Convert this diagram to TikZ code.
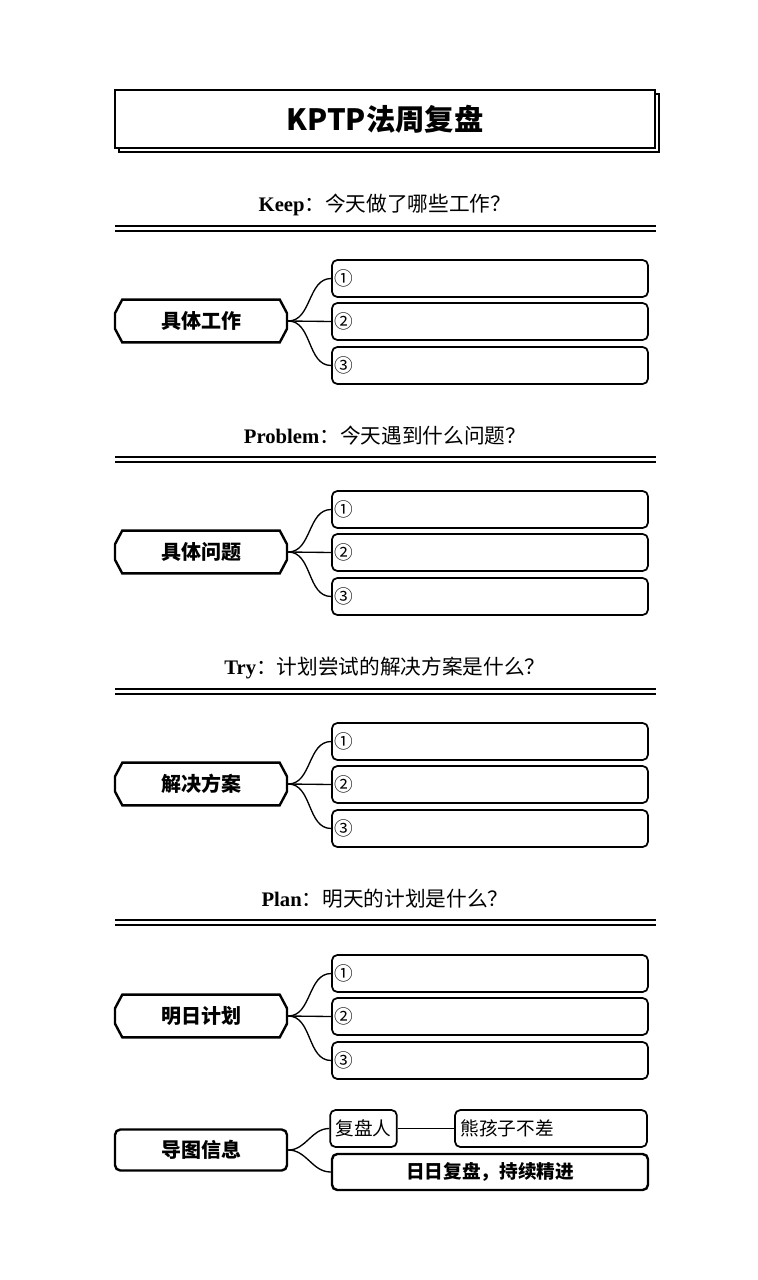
\documentclass[tikz,border=0pt]{standalone}
\usepackage{fontspec}
\setmainfont{Liberation Serif}
\newfontfamily\cjk{Noto Sans CJK SC}
\usetikzlibrary{shapes.misc}

\tikzset{
  titlebox/.style={draw, line width=2pt, fill=white, minimum width=405pt, minimum height=43.5pt,
    font=\cjk\bfseries\fontsize{22}{24}\selectfont},
  shadowbox/.style={draw, line width=1pt, minimum width=405pt, minimum height=43.5pt},
  head/.style={font=\bfseries\fontsize{15.5}{17}\selectfont},
  topic/.style={chamfered rectangle, chamfered rectangle xsep=9pt, chamfered rectangle angle=28,
    draw, line width=1.8pt, fill=white, minimum width=129pt, minimum height=32pt, inner sep=0pt,
    font=\cjk\bfseries\fontsize{15}{17}\selectfont},
  infobox/.style={rectangle, rounded corners=4pt, draw, line width=1.8pt, fill=white,
    minimum width=129pt, minimum height=30.75pt, font=\cjk\bfseries\fontsize{15}{17}\selectfont},
  item/.style={rectangle, rounded corners=4pt, draw, line width=1.3pt, minimum width=237pt,
    minimum height=27.75pt, text width=233pt, align=left, inner xsep=2pt,
    font=\cjk\fontsize{14}{16}\selectfont},
  small/.style={rectangle, rounded corners=4pt, draw, line width=1.3pt, minimum height=27.75pt,
    align=left, inner xsep=4pt, font=\cjk\fontsize{14}{16}\selectfont},
  branch/.style={line width=1pt},
  rule/.style={line width=2.2pt},
  thinrule/.style={line width=1.4pt}
}

\begin{document}
\begin{tikzpicture}[x=0.75pt, y=-0.75pt]
\useasboundingbox (0,0) rectangle (757,1280);

% title
\node (shadow) at (389,123) [shadowbox] {};
\node (title) at (385,119) [titlebox] {KPTP法周复盘};

% Keep
\node (keep) at (385,205) [head] {Keep{\cjk\mdseries ：今天做了哪些工作？}};
\draw[rule] (115,226) -- (656,226);
\draw[thinrule] (115,231) -- (656,231);
\node (work) at (201,321) [topic] {具体工作};
\node (work1) at (490,278.5) [item] {①};
\node (work2) at (490,321.5) [item] {②};
\node (work3) at (490,365.5) [item] {③};
\draw[branch] (work.east) to [out=0, in=180] (work1.west);
\draw[branch] (work.east) to (work2.west);
\draw[branch] (work.east) to [out=0, in=180] (work3.west);

% Problem
\node (problem) at (385,436) [head] {Problem{\cjk\mdseries ：今天遇到什么问题？}};
\draw[rule] (115,457) -- (656,457);
\draw[thinrule] (115,462) -- (656,462);
\node (issue) at (201,552) [topic] {具体问题};
\node (issue1) at (490,509.5) [item] {①};
\node (issue2) at (490,552.5) [item] {②};
\node (issue3) at (490,596.5) [item] {③};
\draw[branch] (issue.east) to [out=0, in=180] (issue1.west);
\draw[branch] (issue.east) to (issue2.west);
\draw[branch] (issue.east) to [out=0, in=180] (issue3.west);

% Try
\node (try) at (385,668) [head] {Try{\cjk\mdseries ：计划尝试的解决方案是什么？}};
\draw[rule] (115,689) -- (656,689);
\draw[thinrule] (115,694) -- (656,694);
\node (fix) at (201,784) [topic] {解决方案};
\node (fix1) at (490,741.5) [item] {①};
\node (fix2) at (490,784.5) [item] {②};
\node (fix3) at (490,828.5) [item] {③};
\draw[branch] (fix.east) to [out=0, in=180] (fix1.west);
\draw[branch] (fix.east) to (fix2.west);
\draw[branch] (fix.east) to [out=0, in=180] (fix3.west);

% Plan
\node (plan) at (385,899) [head] {Plan{\cjk\mdseries ：明天的计划是什么？}};
\draw[rule] (115,920) -- (656,920);
\draw[thinrule] (115,925) -- (656,925);
\node (next) at (201,1016) [topic] {明日计划};
\node (next1) at (490,973.5) [item] {①};
\node (next2) at (490,1016.5) [item] {②};
\node (next3) at (490,1060.5) [item] {③};
\draw[branch] (next.east) to [out=0, in=180] (next1.west);
\draw[branch] (next.east) to (next2.west);
\draw[branch] (next.east) to [out=0, in=180] (next3.west);

% info
\node (info) at (201,1150) [infobox] {导图信息};
\node (who) at (363.5,1128.5) [small, minimum width=47pt] {复盘人};
\node (name) at (551,1128.5) [small, minimum width=144pt, text width=136pt] {熊孩子不差};
\node (motto) at (490,1172) [item, line width=1.8pt, minimum height=27pt, align=center,
  font=\cjk\bfseries\fontsize{14}{16}\selectfont] {日日复盘，持续精进};
\draw[branch] (info.east) to [out=0, in=180] (who.west);
\draw[branch] (info.east) to [out=0, in=180] (motto.west);
\draw[branch] (who.east) to (name.west);
\end{tikzpicture}
\end{document}
